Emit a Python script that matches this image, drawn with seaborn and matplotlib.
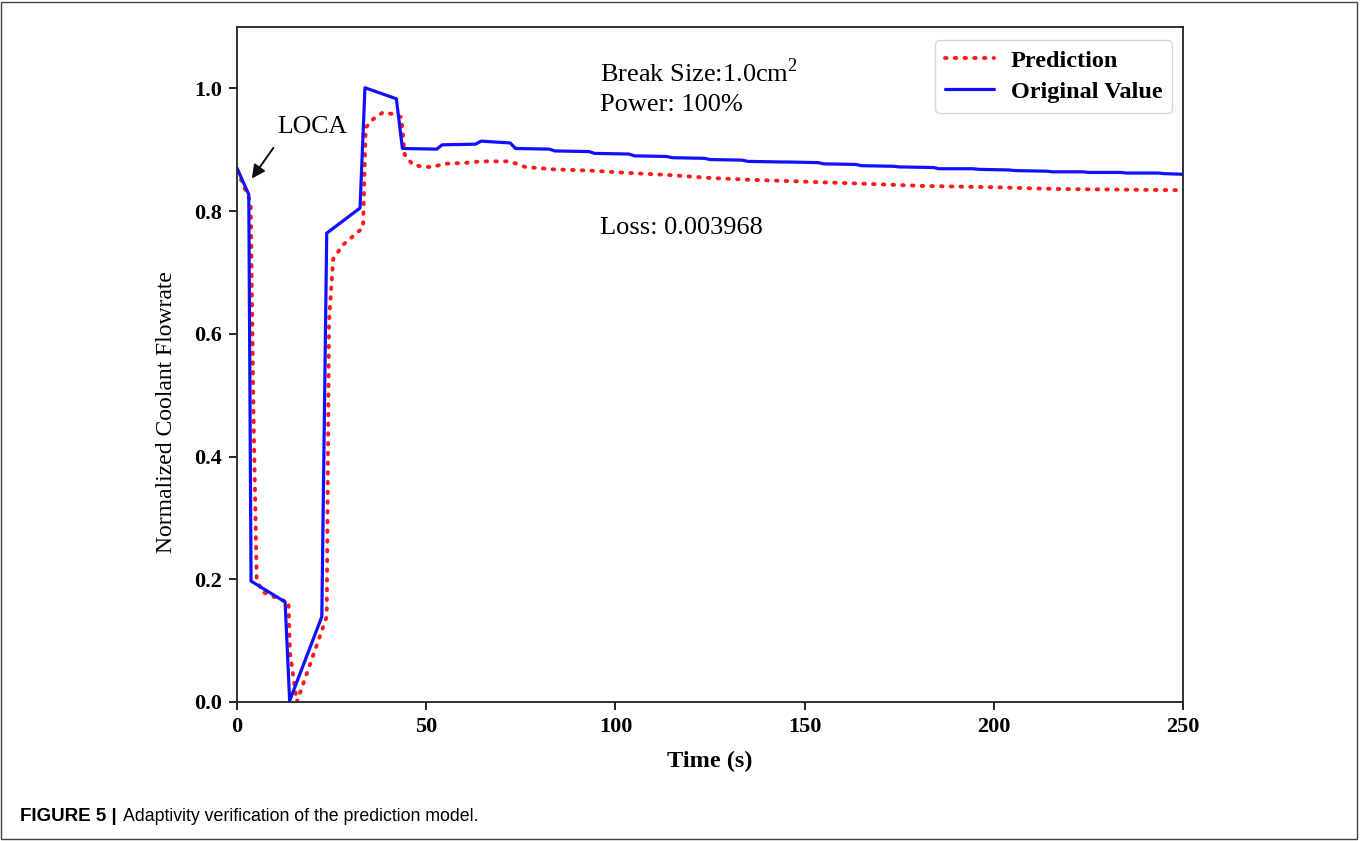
import matplotlib
matplotlib.use("Agg")
import matplotlib.pyplot as plt
from matplotlib.patches import Rectangle
import seaborn as sns
import pandas as pd

# ---- data ----
orig_t = [0, 3.1, 3.7, 12.7, 13.9, 22.4, 23.7, 32.5, 33.8, 42.1, 43.7,
          52.8, 54.2, 63.0, 64.5, 72.2, 73.6, 82.5, 84.0, 93.0, 94.5,
          103.5, 105.0, 113.5, 115.0, 123.5, 125.0, 133.5, 135.0, 144.0,
          145.5, 153.5, 155.0, 163.5, 165.0, 173.5, 175.0, 184.0, 185.5,
          194.5, 196.0, 204.0, 205.5, 214.0, 215.5, 223.5, 225.0, 233.5,
          235.0, 243.5, 245.0, 250.0]
orig_v = [0.870, 0.827, 0.197, 0.163, 0.002, 0.139, 0.764, 0.805, 1.001, 0.983, 0.902,
          0.901, 0.908, 0.909, 0.914, 0.911, 0.902, 0.901, 0.898, 0.897, 0.894,
          0.893, 0.890, 0.889, 0.887, 0.886, 0.884, 0.883, 0.881, 0.880,
          0.880, 0.879, 0.877, 0.876, 0.874, 0.873, 0.872, 0.871, 0.869,
          0.869, 0.868, 0.867, 0.866, 0.865, 0.864, 0.864, 0.863, 0.863,
          0.862, 0.862, 0.861, 0.860]

pred_t = [0, 1.5, 3.6, 4.4, 5.2, 6.5, 8.0, 11.4, 13.6, 14.0, 15.8, 23.7,
          24.3, 25.4, 28.0, 33.3, 34.0, 36.0, 38.6, 41.2, 43.4, 44.3, 46.5,
          49.7, 51.9, 54.6, 61.6, 64.2, 71.7, 74.0, 76.1, 83.6, 93.3, 103.9,
          113.6, 125.0, 135.6, 145.3, 163.7, 181.3, 199.0, 216.6, 234.0, 250.0]
pred_v = [0.866, 0.845, 0.814, 0.45, 0.200, 0.180, 0.176, 0.167, 0.163, 0.080, 0.000, 0.139,
          0.620, 0.722, 0.745, 0.773, 0.936, 0.950, 0.961, 0.958, 0.953, 0.892, 0.875,
          0.872, 0.872, 0.877, 0.879, 0.881, 0.881, 0.877, 0.872, 0.868, 0.866, 0.862,
          0.859, 0.854, 0.851, 0.849, 0.845, 0.841, 0.839, 0.836, 0.835, 0.834]

x_ticks = [0, 50, 100, 150, 200, 250]
y_ticks = [0.0, 0.2, 0.4, 0.6, 0.8, 1.0]

series_names = ["Prediction", "Original Value"]

# ---- style ----
sns.set_style("ticks")
plt.rcParams['font.family'] = ['Liberation Serif', 'DejaVu Serif']
plt.rcParams['mathtext.fontset'] = 'custom'
plt.rcParams['mathtext.rm'] = 'Liberation Serif'
for k in ['text.color', 'axes.labelcolor', 'xtick.color', 'ytick.color']:
    plt.rcParams[k] = 'black'

fig = plt.figure(figsize=(13.6, 8.41), dpi=100)
ax = fig.add_axes([0.1743, 0.1653, 0.8699 - 0.1743, 0.9679 - 0.1653])

df_pred = pd.DataFrame({"t": pred_t, "v": pred_v})
df_orig = pd.DataFrame({"t": orig_t, "v": orig_v})

sns.lineplot(data=df_pred, x="t", y="v", ax=ax, color="#ff1a1a", linewidth=2.8,
             linestyle=(0, (0.4, 2.1)), label=series_names[0],
             estimator=None, sort=False)
sns.lineplot(data=df_orig, x="t", y="v", ax=ax, color="#1010ff", linewidth=2.3,
             label=series_names[1], estimator=None, sort=False)
ax.lines[0].set_dash_capstyle("round")

ax.set_xlim(0, 250)
ax.set_ylim(0, 1.1)
ax.set_xticks(x_ticks)
ax.set_yticks(y_ticks)
ax.set_xticklabels([str(v) for v in x_ticks], fontsize=16, fontweight="bold")
ax.set_yticklabels([f"{v:.1f}" for v in y_ticks], fontsize=16, fontweight="bold")
ax.tick_params(axis="both", direction="out", length=6, width=1.2, colors="black", pad=5)
for s in ax.spines.values():
    s.set_visible(True)
    s.set_color("#222222")
    s.set_linewidth(1.3)

ax.set_xlabel("Time (s)", fontsize=17.5, fontweight="bold", labelpad=10)
ax.set_ylabel("Normalized Coolant Flowrate", fontsize=17)
ax.yaxis.set_label_coords(-0.063, 0.43)

ax.text(95.9, 1.011, r"Break Size:1.0cm$^2$", fontsize=19, va="baseline", ha="left")
ax.text(95.9, 0.9625, "Power: 100%", fontsize=19, va="baseline", ha="left")
ax.text(95.9, 0.762, "Loss: 0.003968", fontsize=19, va="baseline", ha="left")

ax.text(19.9, 0.937, "LOCA", fontsize=18.5, ha="center", va="center")
ax.annotate("", xy=(3.9, 0.853), xytext=(9.6, 0.903),
            arrowprops=dict(arrowstyle="-|>", color="#111111", lw=1.4,
                            mutation_scale=20, shrinkA=0, shrinkB=0))

leg = ax.legend(loc="upper right", fontsize=17.5, frameon=True, fancybox=True,
                handlelength=2.0, handletextpad=0.7, borderpad=0.4, labelspacing=0.38,
                borderaxespad=0, bbox_to_anchor=(0.9884, 0.981))
for t in leg.get_texts():
    t.set_fontweight("bold")
leg.get_frame().set_edgecolor("#cccccc")
leg.get_frame().set_linewidth(1.0)

# caption
fig.text(0.0145, 0.0238, "FIGURE 5 |", fontsize=13.5, fontweight="bold",
         family=["Liberation Sans", "DejaVu Sans"], va="baseline", ha="left")
fig.text(0.0905, 0.0238, "Adaptivity verification of the prediction model.",
         fontsize=12.8, family=["Liberation Sans", "DejaVu Sans"], va="baseline", ha="left")

# outer frame
fig.patches.append(Rectangle((0.001, 0.002), 0.997, 0.996, transform=fig.transFigure,
                             fill=False, edgecolor="#444444", linewidth=1.0))

fig.savefig("out.png", dpi=100)
